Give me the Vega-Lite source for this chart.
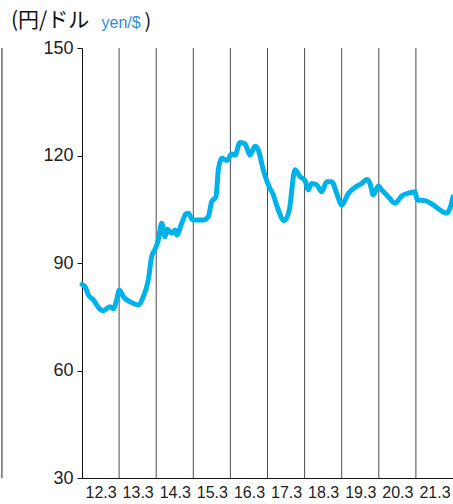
{
  "$schema": "https://vega.github.io/schema/vega-lite/v6.json",
  "autosize": "none",
  "width": 371,
  "height": 430,
  "padding": {"left": 82, "top": 48, "right": 0, "bottom": 26},
  "background": "white",
  "config": {"view": {"stroke": null}},
  "title": {
    "text": "(円/ドル",
    "anchor": "start",
    "frame": "group",
    "dx": -71,
    "offset": -20,
    "font": "Noto Sans CJK JP",
    "fontSize": 21,
    "fontWeight": "normal",
    "color": "#111111"
  },
  "datasets": {
    "fx": [
      {"m": 0, "v": 84.0}, {"m": 0.97, "v": 83.4}, {"m": 2.04, "v": 81.1}, {"m": 3.66, "v": 79.7},
      {"m": 5.82, "v": 77.1}, {"m": 6.89, "v": 76.7}, {"m": 9.06, "v": 77.8}, {"m": 10.12, "v": 77.2},
      {"m": 11.22, "v": 79.7}, {"m": 12.06, "v": 82.5}, {"m": 13.36, "v": 80.6}, {"m": 15.53, "v": 79.2},
      {"m": 18.21, "v": 78.3}, {"m": 19.83, "v": 80.6}, {"m": 21.45, "v": 85.3}, {"m": 22.54, "v": 91.8},
      {"m": 23.61, "v": 93.8}, {"m": 24.68, "v": 96.4}, {"m": 25.78, "v": 101.1}, {"m": 26.85, "v": 97.3},
      {"m": 27.59, "v": 99.4}, {"m": 29.01, "v": 98.3}, {"m": 30.08, "v": 99.2}, {"m": 30.63, "v": 97.8},
      {"m": 32.25, "v": 101.1}, {"m": 33.64, "v": 103.7}, {"m": 34.38, "v": 103.9}, {"m": 35.81, "v": 102.0},
      {"m": 37.62, "v": 102.0}, {"m": 39.24, "v": 102.0}, {"m": 40.85, "v": 102.9}, {"m": 41.95, "v": 107.1},
      {"m": 43.34, "v": 108.5}, {"m": 44.09, "v": 116.0}, {"m": 45.19, "v": 119.2}, {"m": 46.8, "v": 118.6},
      {"m": 48.42, "v": 120.4}, {"m": 49.49, "v": 120.1}, {"m": 51.1, "v": 123.6}, {"m": 52.72, "v": 123.2},
      {"m": 54.34, "v": 120.1}, {"m": 55.96, "v": 122.6}, {"m": 57.02, "v": 121.5}, {"m": 58.64, "v": 116.0},
      {"m": 60.26, "v": 111.8}, {"m": 61.88, "v": 109.0}, {"m": 63.49, "v": 104.8}, {"m": 65.43, "v": 101.8},
      {"m": 67.05, "v": 104.8}, {"m": 68.89, "v": 116.0}, {"m": 70.51, "v": 114.1}, {"m": 72.13, "v": 113.0},
      {"m": 73.2, "v": 110.4}, {"m": 74.3, "v": 112.2}, {"m": 75.92, "v": 111.8}, {"m": 77.53, "v": 109.9},
      {"m": 79.15, "v": 112.7}, {"m": 80.77, "v": 112.7}, {"m": 82.38, "v": 109.4}, {"m": 84.0, "v": 106.2},
      {"m": 86.14, "v": 109.4}, {"m": 88.3, "v": 111.1}, {"m": 90.47, "v": 112.2}, {"m": 92.09, "v": 113.3},
      {"m": 93.16, "v": 112.2}, {"m": 94.22, "v": 109.0}, {"m": 95.84, "v": 111.5}, {"m": 96.94, "v": 110.4},
      {"m": 99.08, "v": 108.5}, {"m": 101.24, "v": 106.7}, {"m": 103.41, "v": 108.7}, {"m": 106.09, "v": 109.6},
      {"m": 107.71, "v": 109.9}, {"m": 108.45, "v": 107.6}, {"m": 110.94, "v": 107.4}, {"m": 113.63, "v": 106.2},
      {"m": 115.79, "v": 104.8}, {"m": 117.96, "v": 103.9}, {"m": 119.03, "v": 105.3}, {"m": 120, "v": 108.5}
    ],
    "years": [
      {"m": 12}, {"m": 24}, {"m": 36}, {"m": 48}, {"m": 60}, {"m": 72}, {"m": 84}, {"m": 96}, {"m": 108}
    ],
    "edge": [{"m": -25.9}]
  },
  "layer": [
    {
      "data": {"name": "years"},
      "mark": {"type": "rule", "color": "#4a4a4a", "strokeWidth": 1},
      "encoding": {
        "x": {"field": "m", "type": "quantitative", "scale": {"domain": [0, 120], "nice": false, "zero": false}},
        "y": {"datum": 30, "type": "quantitative"},
        "y2": {"datum": 150}
      }
    },
    {
      "data": {"name": "edge"},
      "mark": {"type": "rule", "color": "#222222", "strokeWidth": 1, "clip": false},
      "encoding": {
        "x": {"field": "m", "type": "quantitative"},
        "y": {"datum": 30, "type": "quantitative"},
        "y2": {"datum": 150}
      }
    },
    {
      "data": {"name": "fx"},
      "mark": {"type": "line", "color": "#00b2ea", "strokeWidth": 5, "strokeJoin": "round", "strokeCap": "round", "interpolate": "monotone", "clip": false},
      "encoding": {
        "x": {
          "field": "m",
          "type": "quantitative",
          "axis": {
            "values": [6, 18, 30, 42, 54, 66, 78, 90, 102, 114],
            "labelExpr": "(12 + (datum.value - 6) / 12) + '.3'",
            "grid": false,
            "ticks": false,
            "domainColor": "#111111",
            "domainWidth": 1,
            "labelFont": "Liberation Sans Narrow, Liberation Sans",
            "labelFontSize": 16,
            "labelColor": "#222222",
            "labelPadding": 6,
            "labelFlush": false,
            "title": ")",
            "titleAngle": 0,
            "titleX": 62,
            "titleY": -447,
            "titleAlign": "left",
            "titleBaseline": "bottom",
            "titleFont": "Noto Sans CJK JP",
            "titleFontSize": 20,
            "titleFontWeight": "normal",
            "titleColor": "#111111"
          }
        },
        "y": {
          "field": "v",
          "type": "quantitative",
          "scale": {"domain": [30, 150], "nice": false, "zero": false},
          "axis": {
            "values": [30, 60, 90, 120, 150],
            "grid": false,
            "tickSize": 5,
            "tickColor": "#111111",
            "domainColor": "#111111",
            "domainWidth": 1,
            "labelFont": "Liberation Sans",
            "labelFontSize": 18,
            "labelColor": "#222222",
            "labelPadding": 4,
            "labelFlush": false,
            "title": "yen/$",
            "titleAngle": 0,
            "titleX": 19,
            "titleY": -18,
            "titleAlign": "left",
            "titleBaseline": "bottom",
            "titleFont": "Liberation Sans",
            "titleFontSize": 16,
            "titleFontWeight": "normal",
            "titleColor": "#2a8fd8"
          }
        }
      }
    }
  ]
}
